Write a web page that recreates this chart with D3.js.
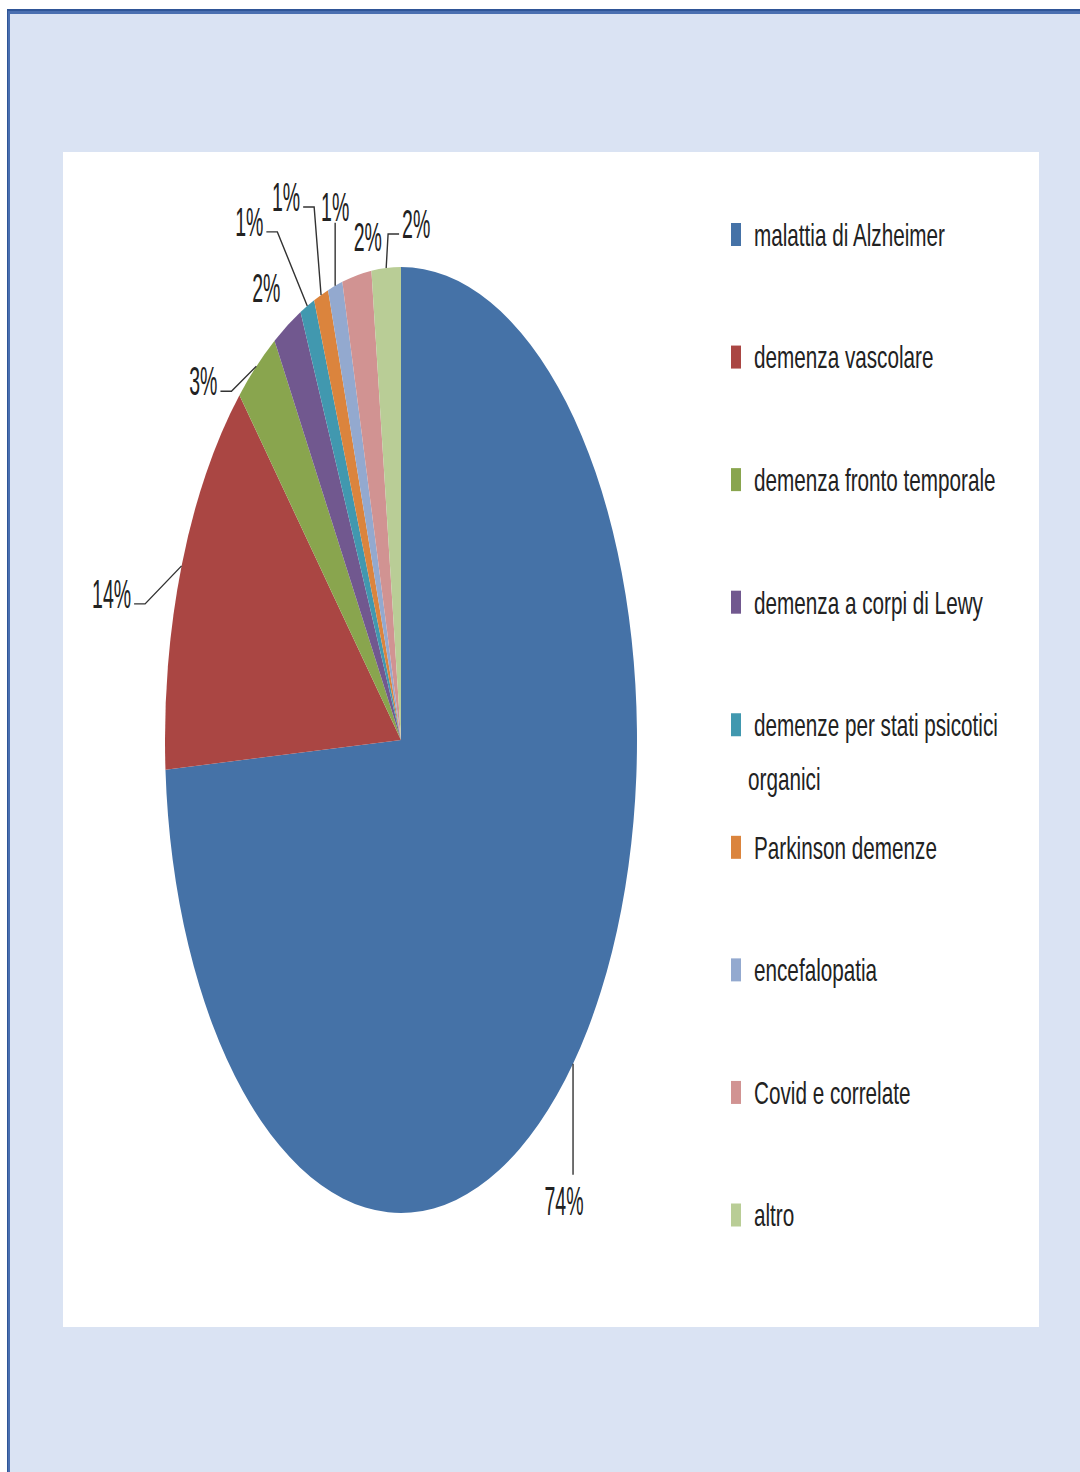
<!DOCTYPE html>
<html>
<head>
<meta charset="utf-8">
<script src="https://cdn.jsdelivr.net/npm/d3@7"></script>
<style>
  body { margin: 0; background: #fff; }
</style>
</head>
<body>
<div id="chart"></div>
<script>
// categories and values (percent)
const categories = [
    "malattia di Alzheimer",
    "demenza vascolare",
    "demenza fronto temporale",
    "demenza a corpi di Lewy",
    "demenze per stati psicotici organici",
    "Parkinson demenze",
    "encefalopatia",
    "Covid e correlate",
    "altro"
];
const values = [74, 14, 3, 2, 1, 1, 1, 2, 2];
const colors = ["#4572a7", "#aa4643", "#89a54e", "#71588f", "#4198af", "#db843d", "#93a9cf", "#d19392", "#b9cd96"];

// where Excel put each data label, relative to the slice edge, and what kind of leader it drew
const labelNudge = [[-9, 136], [-70, 27], [-53, 14], [-21, -38], [-58, -85], [-35, -99], [0, -80], [11, -39], [30, -45]];
const leaderKind = ["down", "side", "side", "none", "side", "side", "up", "none", "side"];

const W = 1080, H = 1472;
const cx = 401, cy = 740, rx = 236, ry = 473;
const stretch = ry / rx;

const svg = d3.select("#chart").append("svg")
    .attr("width", W)
    .attr("height", H)
    .style("display", "block");

// frame: light blue panel with dark blue line on top and left
svg.append("rect").attr("x", 7).attr("y", 9).attr("width", W - 7).attr("height", H - 9).attr("fill", "#2f5597");
svg.append("rect").attr("x", 8).attr("y", 11).attr("width", W - 8).attr("height", H - 11).attr("fill", "#4a6fb0");
svg.append("rect").attr("x", 10).attr("y", 14).attr("width", W - 10).attr("height", H - 14).attr("fill", "#dae3f3");

// plot area
svg.append("rect")
    .attr("x", 63).attr("y", 152)
    .attr("width", 976).attr("height", 1175)
    .attr("fill", "#fff");

const pie = d3.pie().sort(null).value(d => d);
const arcs = pie(values);

const arc = d3.arc().innerRadius(0).outerRadius(rx);
const rim = d3.arc().innerRadius(rx).outerRadius(rx);

svg.append("g")
    .attr("transform", `translate(${cx},${cy}) scale(1,${stretch})`)
    .selectAll("path")
    .data(arcs)
    .join("path")
    .attr("d", arc)
    .attr("fill", (d, i) => colors[i]);

const fontFam = "'Liberation Sans', Arial, sans-serif";
const total = d3.sum(values);

// data labels with leader lines
const labelSize = 19.5, labelSy = 2.1;
const labels = svg.append("g");
const leaders = svg.append("g").attr("fill", "none").attr("stroke", "#333").attr("stroke-width", 1.4);

arcs.forEach((d, i) => {
    const c = rim.centroid(d);
    const ex = cx + c[0], ey = cy + c[1] * stretch;
    const lx = ex + labelNudge[i][0], ly = ey + labelNudge[i][1];

    const t = labels.append("text")
        .attr("transform", `translate(${lx},${ly}) scale(1,${labelSy})`)
        .attr("text-anchor", "middle")
        .attr("dy", "0.36em")
        .attr("font-family", fontFam)
        .attr("font-size", labelSize)
        .attr("fill", "#222")
        .text(Math.round(d.data / total * 100) + "%");

    const half = t.node().getComputedTextLength() / 2;
    let pts = null;
    if (leaderKind[i] === "side") {
        const dir = lx < ex ? 1 : -1;
        const ax = lx + dir * (half + 3), ay = ly + 11;
        pts = [[ax, ay], [ax + dir * 11, ay], [ex, ey]];
    } else if (leaderKind[i] === "down") {
        pts = [[ex, ey], [ex, ly - 25]];
    } else if (leaderKind[i] === "up") {
        pts = [[ex, ey], [ex, ly + 17]];
    }
    if (pts) leaders.append("path").attr("d", d3.line()(pts));
});

// legend
const legendY = d3.scalePoint().domain(categories).range([234.5, 1215]);
const legendSize = 20.7, legendSy = 1.53;
const legend = svg.append("g");

categories.forEach((name, i) => {
    const y = legendY(name);
    legend.append("rect")
        .attr("x", 731).attr("y", y - 11.5)
        .attr("width", 10).attr("height", 23)
        .attr("fill", colors[i]);

    // simple word wrap like Excel does for long entries
    const words = name.split(" ");
    const lines = [];
    let line = [];
    const probe = legend.append("text").attr("font-family", fontFam).attr("font-size", legendSize);
    words.forEach(w => {
        probe.text([...line, w].join(" "));
        if (line.length && probe.node().getComputedTextLength() > 250) {
            lines.push(line.join(" "));
            line = [w];
        } else {
            line.push(w);
        }
    });
    lines.push(line.join(" "));
    probe.remove();

    lines.forEach((l, j) => {
        legend.append("text")
            .attr("transform", `translate(${j ? 748 : 754},${y + j * 53.4}) scale(1,${legendSy})`)
            .attr("dy", "0.36em")
            .attr("font-family", fontFam)
            .attr("font-size", legendSize)
            .attr("fill", "#222")
            .text(l);
    });
});
</script>
</body>
</html>
